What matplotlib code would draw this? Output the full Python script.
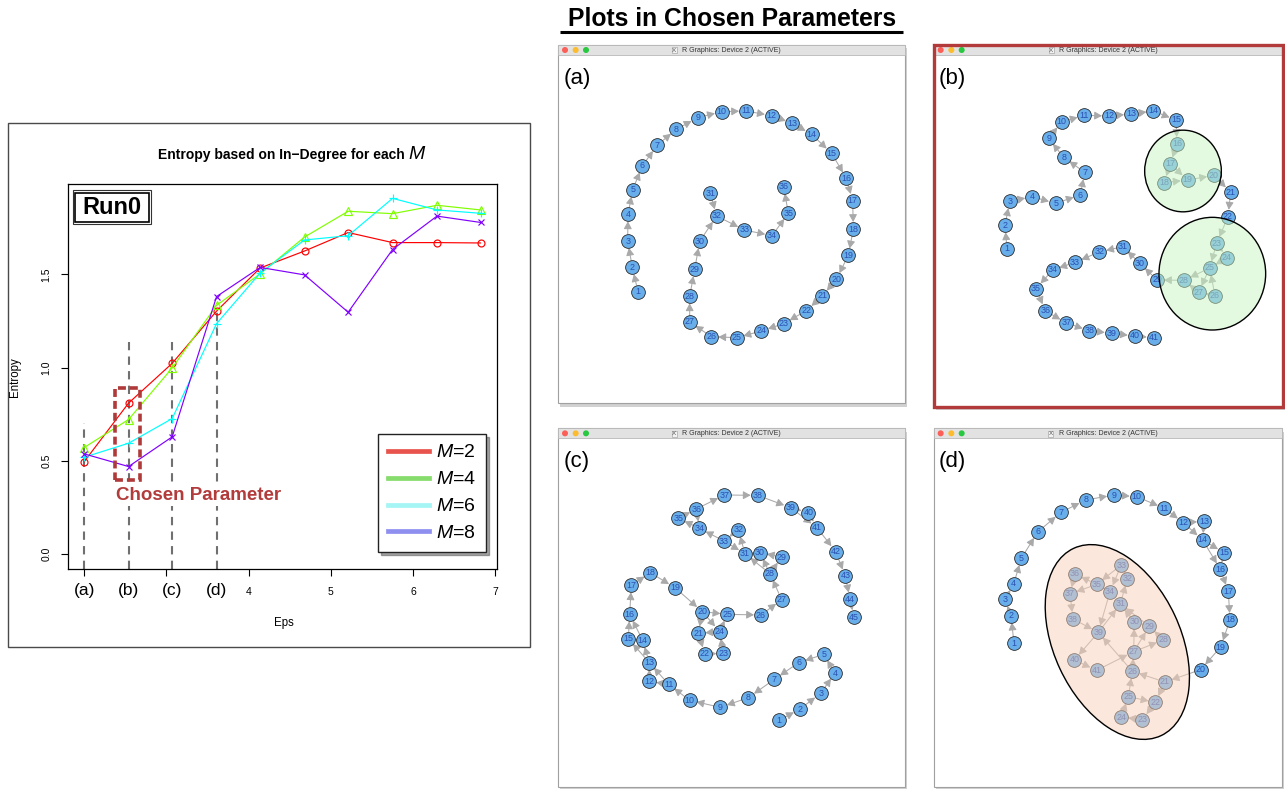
import matplotlib.pyplot as plt
from matplotlib.patches import Rectangle, Circle, Ellipse, FancyArrowPatch
from matplotlib.lines import Line2D

plt.rcParams['font.family'] = ['Liberation Sans', 'DejaVu Sans']
plt.rcParams['mathtext.fontset'] = 'custom'
plt.rcParams['mathtext.it'] = 'Liberation Sans:italic'
plt.rcParams['mathtext.rm'] = 'Liberation Sans'

W, H = 1285, 789

# entropy curves (left chart)
eps = [2.0, 2.54, 3.07, 3.61, 4.14, 4.68, 5.21, 5.75, 6.29, 6.82]
ent_m2 = [0.496, 0.810, 1.023, 1.303, 1.534, 1.625, 1.724, 1.670, 1.670, 1.668]
ent_m4 = [0.572, 0.722, 0.998, 1.334, 1.503, 1.700, 1.838, 1.825, 1.870, 1.845]
ent_m6 = [0.520, 0.595, 0.727, 1.236, 1.507, 1.684, 1.707, 1.907, 1.845, 1.827]
ent_m8 = [0.538, 0.470, 0.629, 1.381, 1.537, 1.497, 1.297, 1.633, 1.812, 1.778]
m_labels = ['$M$=2', '$M$=4', '$M$=6', '$M$=8']
chosen_tags = ['(a)', '(b)', '(c)', '(d)']
guide_top = [0.705, 1.135, 1.135, 1.327]

# network panels: node positions in panel layout units, node i+1 at index i
a_x = [249, 232, 218, 219, 233, 262, 306, 364, 428, 500, 573, 650, 712, 770, 830, 874, 893, 895,
       880, 844, 802, 754, 686, 619, 545, 469, 404, 404, 419, 434, 466, 485, 568, 651, 700, 686]
a_y = [755, 682, 603, 523, 449, 378, 316, 268, 233, 215, 213, 227, 250, 283, 340, 415, 482, 567,
       646, 718, 768, 812, 851, 873, 893, 890, 846, 769, 688, 604, 460, 528, 570, 587, 520, 440]
a_paths = [[1, 2, 3, 4, 5, 6, 7, 8, 9, 10, 11, 12, 13, 14, 15, 16, 17, 18, 19, 20, 21, 22, 23, 24,
            25, 26, 27, 28, 29, 30, 32, 33, 34, 35, 36], [31, 32]]

b_x = [231, 225, 239, 306, 377, 451, 464, 401, 356, 395, 463, 537, 603, 670, 738, 741, 721, 702,
       773, 852, 902, 894, 860, 891, 839, 855, 806, 762, 681, 630, 578, 508, 435, 368, 318, 346,
       409, 478, 545, 614, 671]
b_y = [626, 556, 484, 470, 490, 465, 397, 352, 295, 246, 226, 228, 222, 213, 240, 312, 372, 428,
       420, 406, 457, 530, 610, 653, 684, 767, 757, 721, 720, 670, 620, 636, 667, 690, 746, 812,
       849, 872, 880, 888, 893]
b_paths = [[1, 2, 3, 4, 5, 6, 7, 8, 9, 10, 11, 12, 13, 14, 15, 16, 17, 18, 19, 20, 21, 22, 23, 24,
            25, 28, 29, 30, 31, 32, 33, 34, 35, 36, 37, 38, 39, 40, 41],
           [17, 19], [23, 25], [26, 25], [26, 27], [27, 28], [25, 27]]
b_hulls = [(759, 393, 230, 245), (847, 701, 320, 338)]

c_x = [672, 735, 797, 840, 806, 731, 658, 580, 496, 404, 341, 283, 283, 263, 220, 224, 229, 286,
       360, 442, 430, 450, 505, 494, 517, 618, 680, 645, 680, 615, 570, 550, 507, 433, 370, 424,
       508, 608, 707, 760, 786, 842, 871, 885, 897]
c_y = [886, 852, 805, 744, 688, 713, 763, 818, 847, 826, 778, 769, 713, 646, 641, 568, 481, 443,
       488, 560, 625, 687, 685, 620, 568, 570, 524, 446, 396, 383, 386, 314, 348, 310, 280, 252,
       210, 211, 248, 263, 308, 380, 453, 523, 576]
c_paths = [[1, 2, 3, 4, 5, 6, 7, 8, 9, 10, 11, 12, 13, 14, 15, 16, 17, 18, 19, 20, 21, 22, 23,
            24, 25, 26, 27, 28, 29, 30, 31, 32, 33, 34, 35, 36, 37, 38, 39, 40, 41, 42, 43, 44, 45],
           [11, 13], [13, 15], [14, 16], [20, 25], [20, 24], [24, 21], [28, 30], [28, 31],
           [33, 31], [36, 34], [39, 41]]

d_x = [252, 243, 225, 251, 274, 323, 393, 467, 552, 620, 703, 760, 822, 818, 882, 871, 895, 900,
       872, 812, 705, 676, 637, 574, 595, 607, 611, 700, 658, 613, 571, 592, 574, 540, 500, 435,
       420, 429, 505, 433, 500]
d_y = [655, 572, 523, 477, 400, 321, 262, 225, 210, 215, 250, 293, 289, 345, 383, 433, 499, 585,
       666, 734, 771, 832, 884, 876, 815, 739, 680, 645, 604, 591, 537, 461, 420, 500, 478, 447,
       507, 582, 622, 705, 736]
d_paths = [[1, 2, 3, 4, 5, 6, 7, 8, 9, 10, 11, 12, 13, 14, 15, 16, 17, 18, 19, 20, 21, 22, 23,
            24, 25, 26, 27, 28, 29, 30, 31, 32, 33, 34, 35, 36, 37, 38, 39, 40, 41],
           [12, 14], [14, 16], [21, 26], [25, 22], [27, 29], [27, 30], [29, 31], [39, 31],
           [34, 39], [35, 37], [41, 27], [26, 39], [33, 35]]
d_hull = (562, 651, 620, 380, 65)


def frac_rect(x0, y0, x1, y1):
    return [x0 / W, 1 - y1 / H, (x1 - x0) / W, (y1 - y0) / H]


fig = plt.figure(figsize=(W / 100, H / 100), dpi=100)

bg = fig.add_axes([0, 0, 1, 1], label='bg')
bg.set_xlim(0, W)
bg.set_ylim(H, 0)
bg.axis('off')

# frame + texts of the left chart
bg.add_patch(Rectangle((7.5, 122.5), 522.5, 524, fill=False, ec='#4a4a4a', lw=1))
bg.text(405, 159, 'Entropy based on In\u2212Degree for each', ha='right', va='baseline',
        fontsize=10, weight='bold')
bg.text(408, 159, 'M', ha='left', va='baseline', fontsize=14, style='italic')
bg.text(15.5, 377, 'Entropy', rotation=90, ha='center', va='center', fontsize=8.3)
bg.text(283.4, 623, 'Eps', ha='center', va='center', fontsize=8.3)

# right side title
bg.text(732, 26, 'Plots in Chosen Parameters', ha='center', va='baseline',
        fontsize=17.8, weight='bold')
bg.plot([560, 903], [32, 32], color='black', lw=2.2, solid_capstyle='butt')

# ---- entropy chart
ax = fig.add_axes(frac_rect(68.3, 184, 497, 569))
ax.patch.set_visible(False)
series = [(ent_m2, '#FF0000', 'o', 5.0), (ent_m4, '#80FF00', '^', 5.5),
          (ent_m6, '#00FFFF', '+', 6.0), (ent_m8, '#8000FF', 'x', 5.0)]
for vals, c, mk, ms in series:
    ax.plot(eps, vals, color=c, lw=0.85, marker=mk, ms=ms, mfc='none', mec=c, mew=0.85, zorder=3)

ax.vlines(eps[:4], -0.079, guide_top, colors='#707070', linestyles=(0, (4, 3)), lw=1.5, zorder=2)
for x, t in zip(eps[:4], chosen_tags):
    ax.text(x, -0.057, t, transform=ax.get_xaxis_transform(), ha='center', va='center',
            fontsize=12.5)

ax.add_patch(Rectangle((2.37, 0.398), 0.31, 0.492, fill=False, ec='#B03A3A', lw=2.6,
                       ls=(0, (2.2, 1.1)), zorder=5))

ax.set_xlim(1.807, 7.02)
ax.set_ylim(-0.079, 1.984)
ax.set_xticks([2, 3, 4, 5, 6, 7], ['', '', '4', '5', '6', '7'])
ax.set_yticks([0, 0.5, 1.0, 1.5], ['0.0', '0.5', '1.0', '1.5'])
ax.tick_params(direction='out', length=5, width=0.8, labelsize=7.5)
ax.tick_params(axis='x', pad=8)
ax.tick_params(axis='y', pad=7, labelrotation=90)
for lab in ax.get_yticklabels():
    lab.set_va('center')
for sp in ax.spines.values():
    sp.set_linewidth(0.9)

leg_colors = ['#E8534D', '#86DC6C', '#A5F5F5', '#8F8FF0']
handles = [Line2D([], [], color=c, lw=3.4) for c in leg_colors]
ax.legend(handles, m_labels, loc='lower right', bbox_to_anchor=(486 / W, 1 - 552 / H),
          bbox_transform=fig.transFigure, fontsize=14, frameon=True, fancybox=False,
          edgecolor='#222222', shadow=True, handlelength=2.15, handletextpad=0.35,
          labelspacing=0.48, borderpad=0.5, borderaxespad=0, framealpha=1)


# ---- network panels
def draw_panel(rect, win, tag, nx, ny, paths, border=None):
    px, py, pw, ph = rect
    pa = fig.add_axes(frac_rect(px, py, px + pw, py + ph), label=tag)
    pa.set_xlim(0, pw * 3)
    pa.set_ylim(ph * 3, 0)
    pa.axis('off')
    x0, y0, x1, y1 = win
    pa.add_patch(Rectangle((x0 + 6, y0 + 10), x1 - x0, y1 - y0, fc='black', alpha=0.18,
                           ec='none', zorder=0))
    pa.add_patch(Rectangle((x0, y0), x1 - x0, y1 - y0, fc='white', ec='#a0a0a0', lw=0.8, zorder=1))
    pa.add_patch(Rectangle((x0, y0), x1 - x0, 30, fc='#E2E2E2', ec='#B8B8B8', lw=0.6, zorder=2))
    for dx, c in zip((20, 52, 83), ('#FC5F57', '#FDBC2E', '#28C840')):
        pa.add_patch(Circle((x0 + dx, y0 + 15), 9, fc=c, ec='none', zorder=3))
    mid = (x0 + x1) / 2
    pa.text(mid - 172, y0 + 16, 'X', ha='center', va='center', fontsize=4.5, color='#555555',
            zorder=3, bbox=dict(fc='#f2f2f2', ec='#999999', lw=0.4, pad=0.4))
    pa.text(mid, y0 + 16, 'R Graphics: Device 2 (ACTIVE)', ha='center', va='center',
            fontsize=5, color='#333333', zorder=3)
    pa.text(x0 + 15, y0 + 100, tag, ha='left', va='center', fontsize=16, zorder=3)
    if border:
        pa.add_patch(Rectangle((x0, y0), x1 - x0, y1 - y0, fill=False, ec=border, lw=2.4, zorder=9))

    for path in paths:
        for u, v in zip(path[:-1], path[1:]):
            pa.add_patch(FancyArrowPatch((nx[u - 1], ny[u - 1]), (nx[v - 1], ny[v - 1]),
                                         arrowstyle='-|>,head_length=0.45,head_width=0.24',
                                         mutation_scale=10, color='#A9A9A9', lw=0.75,
                                         shrinkA=5, shrinkB=5, zorder=4))
    pa.scatter(nx, ny, s=98, c='#67AEEA', edgecolors='#2b2b2b', linewidths=0.6, zorder=5)
    for i, (x, y) in enumerate(zip(nx, ny)):
        pa.text(x, y, str(i + 1), fontsize=6.4, color='#2B50B0', ha='center', va='center',
                zorder=6)
    return pa


pa_a = draw_panel((555, 40, 355, 370), (10, 15, 1050, 1090), '(a)', a_x, a_y, a_paths)
pa_b = draw_panel((930, 40, 355, 370), (12, 15, 1060, 1100), '(b)', b_x, b_y, b_paths,
                  border='#B23A3A')
pa_c = draw_panel((555, 425, 355, 364), (10, 10, 1050, 1085), '(c)', c_x, c_y, c_paths)
pa_d = draw_panel((930, 425, 355, 364), (12, 10, 1057, 1085), '(d)', d_x, d_y, d_paths)

for cx, cy, w, h in b_hulls:
    pa_b.add_patch(Ellipse((cx, cy), w, h, fc='#C9F5C3', alpha=0.5, ec='none', zorder=7))
    pa_b.add_patch(Ellipse((cx, cy), w, h, fill=False, ec='black', lw=1, zorder=8))
cx, cy, w, h, ang = d_hull
pa_d.add_patch(Ellipse((cx, cy), w, h, angle=ang, fc='#F9D1B9', alpha=0.5, ec='none', zorder=7))
pa_d.add_patch(Ellipse((cx, cy), w, h, angle=ang, fill=False, ec='black', lw=1, zorder=8))

# ---- overlay: Run0 box and the chosen-parameter note
top = fig.add_axes([0, 0, 1, 1], label='top')
top.set_xlim(0, W)
top.set_ylim(H, 0)
top.axis('off')
top.add_patch(Rectangle((72.5, 190), 78.5, 34, fc='white', ec='#333333', lw=0.8))
top.add_patch(Rectangle((75, 192.5), 73.5, 29, fill=False, ec='black', lw=1.2))
top.text(111.8, 207.5, 'Run0', ha='center', va='center', fontsize=17, weight='bold')
top.text(116, 495.7, 'Chosen Parameter', ha='left', va='center', fontsize=13.5, weight='bold',
         color='#B23B3B', bbox=dict(fc='white', ec='none', pad=1))

plt.savefig('out.png', dpi=100)
